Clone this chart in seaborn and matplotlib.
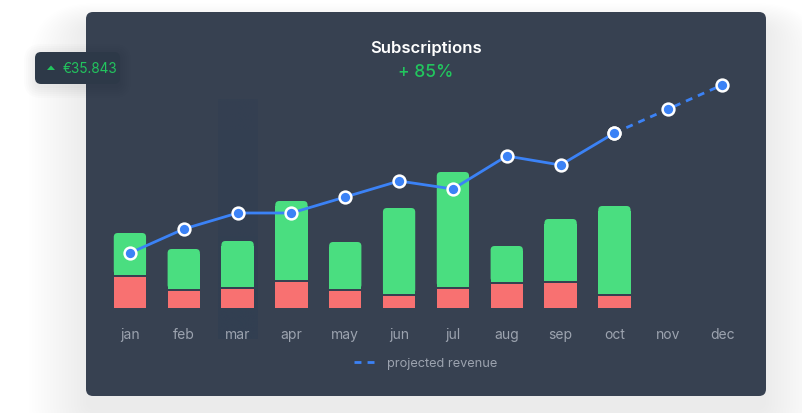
import numpy as np
import matplotlib
matplotlib.use("Agg")
import matplotlib.pyplot as plt
import seaborn as sns
from matplotlib.patches import FancyBboxPatch, Polygon
from matplotlib.lines import Line2D

# --- data ---
months = ['jan', 'feb', 'mar', 'apr', 'may', 'jun', 'jul', 'aug', 'sep', 'oct', 'nov', 'dec']
actual_months = months[:10]
cancelled = [31, 17, 19, 26, 17, 12, 19, 24, 25, 12]
new_subs = [42, 40, 46, 79, 47, 86, 115, 36, 62, 88]
revenue = [55, 79, 95, 95, 111, 127, 119, 152, 143, 175, 199, 223]
n_actual = 10
highlight_month = 'mar'

title = 'Subscriptions'
change_label = '+ 85%'
badge_label = '€35.843'
legend_label = 'projected revenue'

# --- colours ---
PANEL = '#374151'
BADGE = '#2d3948'
GREEN = '#4ade80'
RED = '#f87171'
BLUE = '#3b82f6'
ACCENT = '#22c55e'
MUTED = '#9ca3af'

sns.set_theme(style='white')
plt.rcParams['font.family'] = ['Inter', 'DejaVu Sans']

W, H = 802, 414
fig = plt.figure(figsize=(W / 100, H / 100), dpi=100, facecolor='white')


def px_box(x0, y0, x1, y1, r, **kw):
    # rounded box given in pixel coords from the top-left corner
    p = FancyBboxPatch((x0 / 100, (H - y1) / 100), (x1 - x0) / 100, (y1 - y0) / 100,
                       boxstyle=f'round,pad=0,rounding_size={r / 100}',
                       transform=fig.dpi_scale_trans, **kw)
    fig.add_artist(p)
    return p


def px_text(x, y, s, **kw):
    return fig.text(x / 100, (H - y) / 100, s, transform=fig.dpi_scale_trans, **kw)


# very soft shadow under the card (mostly below it)
for i in range(20):
    g = i * 3.0
    px_box(86 - g, 13 - g * 0.4 + 14, 766 + g, 397 + g + 14, 8 + g, facecolor='#1f2937',
           edgecolor='none', alpha=0.0045, zorder=-20)
px_box(86, 13, 766, 397, 7, facecolor=PANEL, edgecolor='none', zorder=-10)

# badge top-left
for i in range(6):
    g = 1 + i * 2
    px_box(35 - g, 53 - g + 3, 120 + g, 85 + g + 3, 6 + g, facecolor='#111827',
           edgecolor='none', alpha=0.012, zorder=4)
px_box(35, 53, 120, 85, 6, facecolor=BADGE, edgecolor='none', zorder=5)
tri = Polygon([[47 / 100, (H - 71) / 100], [55 / 100, (H - 71) / 100], [51 / 100, (H - 66.5) / 100]],
              closed=True, facecolor=ACCENT, edgecolor='none', transform=fig.dpi_scale_trans, zorder=6)
fig.add_artist(tri)
px_text(63, 69, badge_label, color=ACCENT, fontsize=9.8, ha='left', va='center', zorder=6)

# titles
px_text(426, 48, title, color='white', fontsize=12, fontweight='semibold', ha='center', va='center')
px_text(426, 73, change_label, color=ACCENT, fontsize=12.5, fontweight='medium',
        ha='center', va='center')

# --- chart axes: 1 y-unit == 1 pixel ---
ax = fig.add_axes([103 / W, 1 - 309 / H, 646 / W, 240 / H])
ax.set_facecolor('none')

# hover highlight column (faint)
hi = months.index(highlight_month)
grad = np.zeros((100, 1, 4))
grad[..., :3] = matplotlib.colors.to_rgb('#2c3d52')
grad[:, 0, 3] = np.clip(np.linspace(0.45, 0.25, 100), 0, 1)
ax.imshow(grad, extent=(hi - 0.37, hi + 0.37, -31, 209), aspect='auto', origin='lower',
          zorder=0.5, clip_on=False)

bar_kw = dict(order=actual_months, saturation=1, width=0.6, ax=ax, zorder=2,
              edgecolor='none', linewidth=0)
sns.barplot(x=actual_months, y=cancelled, color=RED, **bar_kw)
sns.barplot(x=actual_months, y=new_subs, color=GREEN, **bar_kw)

gap = 2
r = 4
rr = r / 53.8
green_patches = ax.patches[n_actual:2 * n_actual]
for p, c, g in zip(green_patches, cancelled, new_subs):
    x0, w = p.get_x(), p.get_width()
    p.set_y(c + gap)
    p.set_height(g - r - 1)
    box = FancyBboxPatch((x0, c + gap), w, g, boxstyle=f'round,pad=0,rounding_size={rr}',
                         mutation_aspect=r / rr, facecolor=GREEN, edgecolor='none',
                         linewidth=0, zorder=2)
    ax.add_patch(box)

xs = np.arange(len(months))
marker_kw = dict(marker='o', markersize=8.5, markerfacecolor=BLUE, markeredgecolor='white',
                 markeredgewidth=1.8)
sns.lineplot(x=xs[:n_actual], y=revenue[:n_actual], color=BLUE, lw=2, ax=ax, zorder=5,
             clip_on=False, **marker_kw)
sns.lineplot(x=xs[n_actual - 1:], y=revenue[n_actual - 1:], color=BLUE, lw=2, ax=ax, zorder=5,
             linestyle=(0, (2.5, 2.2)), clip_on=False, **marker_kw)

ax.set_xlim(-0.5, len(months) - 0.5)
ax.set_ylim(0, 240)
ax.set_xticks(xs)
ax.set_xticklabels(months)
ax.set_yticks([])
ax.tick_params(axis='x', length=0, pad=14, labelsize=10, labelcolor=MUTED)
ax.set_xlabel('')
ax.set_ylabel('')
sns.despine(ax=ax, left=True, bottom=True)

# legend for the projected (dashed) part
handle = Line2D([], [], color=BLUE, lw=2, linestyle=(0, (2.5, 2.2)))
fig.legend([handle], [legend_label], loc='center', bbox_to_anchor=(426 / W, 1 - 364 / H),
           frameon=False, handlelength=2.0, handletextpad=0.6, fontsize=9.2, labelcolor=MUTED)

fig.savefig('out.png', dpi=100, facecolor='white')
